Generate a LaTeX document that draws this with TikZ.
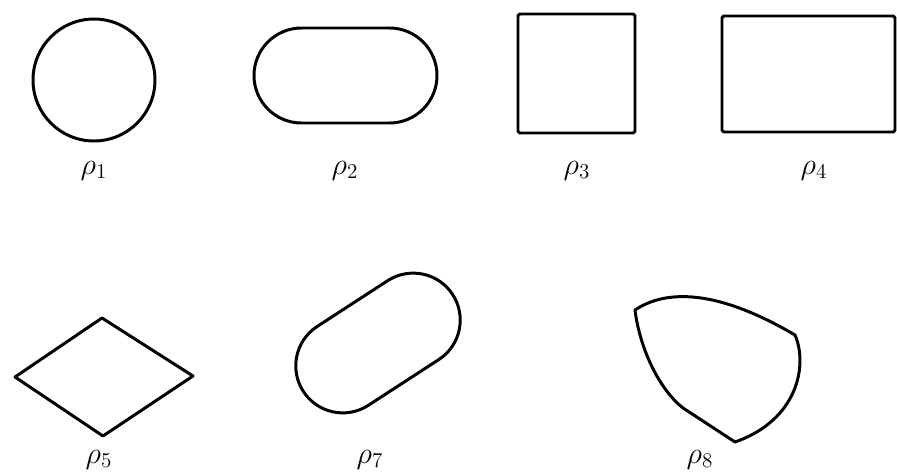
\documentclass[tikz,border=0pt]{standalone}
\usepackage{tikz}
\tikzset{
  shp/.style={line width=1.7pt, line join=round},
  lbl/.style={font=\fontsize{17}{19}\selectfont, inner sep=0pt, anchor=base},
}
\begin{document}
\begin{tikzpicture}[x=0.02cm, y=-0.02cm]
  \useasboundingbox (0,0) rectangle (897,474);

  % top row
  \draw[shp] (94,80) circle[radius=61];
  \draw[shp] (301.5,28) -- (389.5,28) arc[start angle=-90, end angle=90, radius=47.5]
             -- (301.5,123) arc[start angle=90, end angle=270, radius=47.5] -- cycle;
  \draw[shp, rounded corners=1pt] (518,14) rectangle (635,133);
  \draw[shp, rounded corners=1pt] (722,16) rectangle (895,132);

  % bottom row
  \draw[shp] (15,377) -- (102,318) -- (193,376) -- (103,436) -- cycle;
  \begin{scope}[shift={(378,343)}, rotate=33]
    \draw[shp] (-42,-47) -- (42,-47) arc[start angle=-90, end angle=90, radius=47]
               -- (-42,47) arc[start angle=90, end angle=270, radius=47] -- cycle;
  \end{scope}
  \draw[shp] (635,310) .. controls (665,290) and (715,288) .. (795,335)
             .. controls (808,365) and (798,420) .. (735,442)
             -- (683,408)
             .. controls (660,390) and (640,350) .. (635,310) -- cycle;

  % labels
  \node[lbl] (r1) at (94,174) {$\rho_1$};
  \node[lbl] (r2) at (345,174) {$\rho_2$};
  \node[lbl] (r3) at (577,174) {$\rho_3$};
  \node[lbl] (r4) at (814,174) {$\rho_4$};
  \node[lbl] (r5) at (99,463) {$\rho_5$};
  \node[lbl] (r7) at (370,463) {$\rho_7$};
  \node[lbl] (r8) at (700,463) {$\rho_8$};
\end{tikzpicture}
\end{document}
